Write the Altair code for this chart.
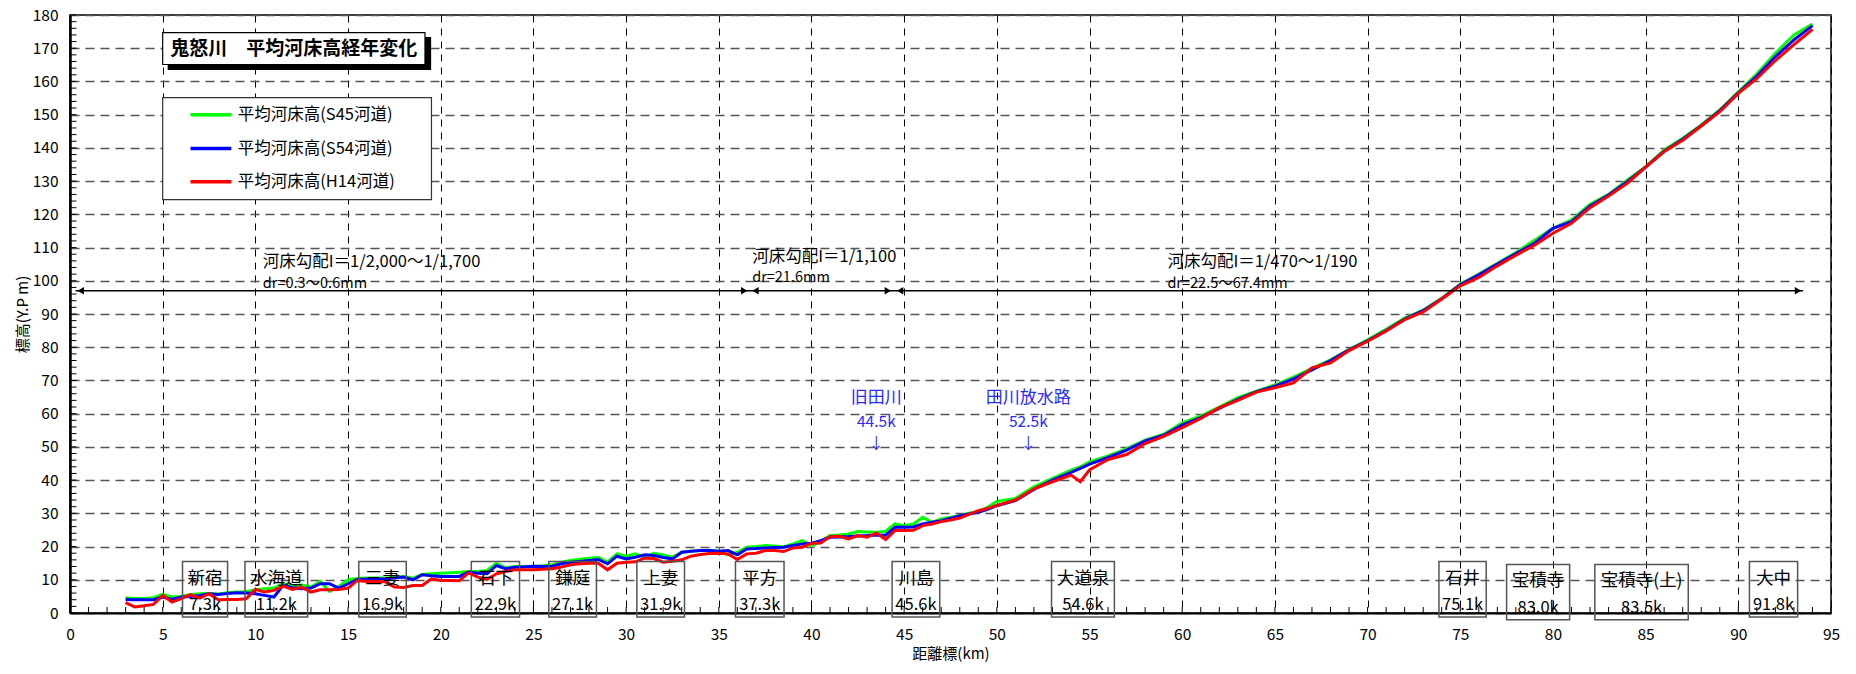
import altair as alt
import pandas as pd

FONT = "Noto Sans CJK JP"

# ---------------- data ----------------
distance = [3.0, 3.5, 4.0, 4.5, 5.0, 5.5, 6.0, 6.5, 7.0, 7.5,
            8.0, 8.5, 9.0, 9.5, 10.0, 10.5, 11.0, 11.5, 12.0, 12.5,
            13.0, 13.5, 14.0, 14.5, 15.0, 15.5, 16.0, 16.5, 17.0, 17.5,
            18.0, 18.5, 19.0, 19.5, 20.0, 20.5, 21.0, 21.5, 22.0, 22.5,
            23.0, 23.5, 24.0, 24.5, 25.0, 25.5, 26.0, 26.5, 27.0, 27.5,
            28.0, 28.5, 29.0, 29.5, 30.0, 30.5, 31.0, 31.5, 32.0, 32.5,
            33.0, 33.5, 34.0, 34.5, 35.0, 35.5, 36.0, 36.5, 37.0, 37.5,
            38.0, 38.5, 39.0, 39.5, 40.0, 40.5, 41.0, 41.5, 42.0, 42.5,
            43.0, 43.5, 44.0, 44.5, 45.0, 45.5, 46.0, 46.5, 47.0, 47.5,
            48.0, 48.5, 49.0, 49.5, 50.0,
            51, 52, 53, 54, 54.5, 55, 56, 57, 58, 59,
            60, 61, 62, 63, 64, 65, 66, 67, 68, 69,
            70, 71, 72, 73, 74, 75, 76, 77, 78, 79,
            80, 81, 82, 83, 84, 85, 86, 87, 88, 89,
            90, 91, 92, 93, 94]

s45 = [4.6, 4.4, 4.4, 4.6, 5.6, 4.8, 5.0, 5.6, 5.8, 5.9,
       5.7, 6.1, 6.3, 6.4, 7.0, 7.3, 7.5, 8.8, 8.2, 8.4,
       7.8, 9.5, 6.5, 8.0, 10.0, 10.4, 10.5, 10.5, 10.5, 10.8,
       11.0, 10.5, 11.6, 11.8, 12.0, 12.1, 12.3, 12.5, 12.5, 12.8,
       15.0, 13.6, 14.0, 14.0, 14.0, 14.2, 14.5, 15.3, 15.8, 16.2,
       16.5, 16.7, 15.3, 17.8, 17.1, 17.8, 16.8, 18.0, 17.5, 16.8,
       18.3, 18.6, 18.8, 18.8, 18.6, 17.5, 18.3, 19.8, 20.0, 20.3,
       20.2, 19.9, 20.8, 21.8, 20.3, 21.5, 23.3, 23.5, 23.8, 24.5,
       24.4, 24.3, 24.6, 26.8, 26.3, 26.8, 28.8, 27.3, 28.3, 28.8,
       29.3, 30.0, 30.5, 31.8, 33.6,
       34.5, 38.0, 40.5, 43.0, 44.0, 45.5, 47.3, 49.5, 52.0, 53.8,
       57.2, 59.3, 62.0, 64.8, 66.8, 68.7, 71.0, 73.6, 76.2, 79.3,
       82.2, 85.4, 88.8, 91.2, 94.7, 99.0, 102.0, 105.3, 108.5, 112.2,
       115.8, 118.3, 123.0, 126.0, 130.3, 134.3, 139.4, 142.9, 146.9, 151.4,
       156.9, 162.3, 168.5, 174.0, 177.3]

s54 = [4.1, 4.0, 4.0, 4.0, 4.8, 4.1, 4.8, 5.0, 5.3, 5.8,
       5.6, 5.9, 6.1, 6.0, 5.8, 5.3, 4.8, 8.3, 7.6, 7.3,
       7.5, 8.8, 8.8, 7.5, 8.8, 10.1, 10.2, 10.2, 10.3, 10.5,
       10.8, 10.0, 11.5, 11.2, 11.0, 11.0, 11.0, 12.3, 12.0, 11.8,
       14.3, 13.3, 13.8, 13.9, 14.1, 14.0, 14.1, 14.8, 15.3, 15.5,
       15.8, 16.1, 14.8, 17.1, 16.3, 16.8, 17.5, 17.3, 16.7, 16.3,
       18.3, 18.6, 18.8, 18.8, 18.6, 18.8, 17.5, 19.3, 19.4, 19.6,
       19.7, 19.8, 20.3, 20.8, 21.0, 21.8, 22.8, 22.9, 23.0, 23.2,
       23.3, 23.5, 23.4, 25.8, 25.8, 25.9, 26.8, 27.3, 27.8, 28.5,
       29.3, 29.8, 30.3, 31.2, 32.3,
       33.8, 37.2, 40.0, 42.3, 43.5, 44.8, 46.8, 49.0, 51.8, 53.5,
       56.6, 58.8, 61.6, 64.3, 66.6, 68.3, 70.5, 73.2, 76.0, 79.2,
       81.9, 85.0, 88.5, 91.0, 94.6, 98.8, 101.8, 105.0, 108.2, 111.3,
       115.8, 117.8, 122.5, 125.8, 129.8, 134.2, 139.0, 142.6, 146.7, 151.2,
       156.6, 161.6, 167.5, 172.5, 176.8]

h14 = [3.1, 1.8, 2.2, 2.6, 5.3, 3.3, 4.3, 5.5, 4.5, 5.8,
       4.0, 4.1, 4.1, 4.3, 7.1, 6.3, 6.8, 8.1, 7.1, 7.8,
       6.3, 7.0, 7.0, 7.1, 7.5, 9.8, 9.5, 9.5, 9.4, 7.8,
       7.7, 8.3, 8.3, 10.3, 9.8, 9.8, 9.7, 12.1, 10.8, 10.1,
       11.8, 12.5, 13.0, 13.0, 13.0, 13.2, 13.3, 13.8, 14.5, 14.8,
       15.0, 15.0, 13.0, 15.0, 15.3, 15.4, 16.5, 16.4, 15.3, 15.6,
       16.0, 17.1, 17.6, 17.9, 18.0, 17.8, 16.1, 17.8, 18.0, 18.8,
       18.8, 18.5, 19.6, 19.8, 21.0, 21.1, 23.0, 23.1, 22.3, 23.3,
       22.8, 24.1, 22.1, 24.8, 24.8, 24.9, 26.3, 26.8, 27.5, 28.0,
       28.6, 29.7, 30.8, 31.5, 32.4,
       34.0, 37.4, 39.5, 41.5, 39.5, 43.1, 46.2, 47.7, 51.0, 53.2,
       55.8, 58.6, 61.8, 64.0, 66.5, 67.8, 69.3, 73.8, 75.3, 79.0,
       81.8, 84.9, 88.3, 90.6, 94.5, 98.5, 101.0, 104.5, 107.7, 110.7,
       114.3, 117.3, 122.0, 125.5, 129.3, 134.2, 138.9, 142.3, 146.6, 150.9,
       156.4, 160.9, 166.3, 171.1, 175.7]

series_names = ["平均河床高(S45河道)", "平均河床高(S54河道)", "平均河床高(H14河道)"]
series_colors = ["#00ff00", "#0000ff", "#ff0000"]

station_names = ["新宿", "水海道", "三妻", "石下", "鎌庭", "上妻", "平方", "川島",
                 "大道泉", "石井", "宝積寺", "宝積寺(上)", "大中"]
station_km = ["7.3k", "11.2k", "16.9k", "22.9k", "27.1k", "31.9k", "37.3k", "45.6k",
              "54.6k", "75.1k", "83.0k", "83.5k", "91.8k"]

chart_title = "鬼怒川　平均河床高経年変化"
slope_texts = ["河床勾配I＝1/2,000～1/1,700", "河床勾配I＝1/1,100", "河床勾配I＝1/470～1/190"]
dr_texts = ["dr=0.3～0.6mm", "dr=21.6mm", "dr=22.5～67.4mm"]
river_names = ["旧田川", "田川放水路"]
river_km = ["44.5k", "52.5k"]

# ---------------- annotation placement (data coordinates) ----------------
st_x1 = [6.07, 9.44, 15.58, 21.65, 25.83, 30.58, 35.9, 44.35, 52.95, 73.85, 77.5, 82.26, 90.6]
st_x2 = [8.5, 12.82, 18.14, 24.25, 28.4, 33.15, 38.52, 46.92, 56.34, 76.4, 80.9, 87.3, 93.2]
st_y1 = [-1.2] * 10 + [-2.0, -2.0, -1.2]
st_y2 = [15.5] * 10 + [14.6, 14.6, 15.5]
st_name_y = [10.3] * 10 + [9.5, 9.5, 10.3]
st_km_y = [2.3] * 10 + [1.6, 1.6, 2.3]

stations = pd.DataFrame({
    "name": station_names, "km": station_km,
    "x1": st_x1, "x2": st_x2, "y1": st_y1, "y2": st_y2,
    "xm": [(a + b) / 2 for a, b in zip(st_x1, st_x2)],
    "ny": st_name_y, "ky": st_km_y,
})

xs = alt.Scale(domain=[0, 95], nice=False, zero=False)
ys = alt.Scale(domain=[0, 180], nice=False)

X_AXIS = alt.Axis(values=list(range(0, 96, 5)), title="距離標(km)", ticks=False,
                  labelPadding=14, titlePadding=4, grid=True, gridColor="#000000",
                  gridDash=[7, 6], gridWidth=1, domainColor="black", domainWidth=2,
                  labelFlush=False)
Y_AXIS = alt.Axis(values=list(range(0, 181, 10)), title="標高(Y.P m)", ticks=False,
                  labelPadding=12, titlePadding=2, grid=True, gridColor="#555555",
                  gridDash=[9, 6], gridWidth=1.5, domainColor="black", domainWidth=2.5)


def XF(field):
    return alt.X(field, scale=xs, axis=X_AXIS)


def YF(field):
    return alt.Y(field, scale=ys, axis=Y_AXIS)


def XD(v):
    return alt.X(datum=v, scale=xs, axis=X_AXIS)


def YD(v):
    return alt.Y(datum=v, scale=ys, axis=Y_AXIS)


def series_layer(idx, vals):
    df = pd.DataFrame({"distance": distance, "elev": vals})
    return alt.Chart(df).mark_line(strokeWidth=3, color=series_colors[idx], clip=False).encode(
        x=XF("distance:Q"), y=YF("elev:Q"))


one = pd.DataFrame({"a": [0]})

# minor ticks (inside)
y_minor = alt.Chart(alt.sequence(0, 181, 2, as_="v")).mark_rule(color="black", strokeWidth=1).encode(
    y=YF("v:Q"), x=XD(0), x2=alt.X2(datum=0.35))
x_minor = alt.Chart(alt.sequence(0, 96, 1, as_="v")).mark_rule(color="black", strokeWidth=1).encode(
    x=XF("v:Q"), y=YD(0), y2=alt.Y2(datum=1.8))

# station boxes
st_box = alt.Chart(stations).mark_rect(fill="white", fillOpacity=0, stroke="#555555",
                                       strokeWidth=1.5, clip=False).encode(
    x=XF("x1:Q"), x2="x2:Q", y=YF("y1:Q"), y2="y2:Q")
st_name = alt.Chart(stations).mark_text(font=FONT, fontSize=17.5, color="black",
                                        baseline="middle", align="center").encode(
    x=XF("xm:Q"), y=YF("ny:Q"), text="name:N")
st_kmt = alt.Chart(stations).mark_text(font=FONT, fontSize=16.5, color="black",
                                       baseline="middle", align="center").encode(
    x=XF("xm:Q"), y=YF("ky:Q"), text="km:N")

# title box with shadow
title_box = pd.DataFrame({"x1": [5.3, 5.0], "x2": [19.45, 19.15], "y1": [163.6, 165.1],
                          "y2": [173.2, 174.7], "fill": ["black", "white"]})
tb = alt.Chart(title_box).mark_rect(stroke="black", strokeWidth=1.2).encode(
    x=XF("x1:Q"), x2="x2:Q", y=YF("y1:Q"), y2="y2:Q",
    fill=alt.Fill("fill:N", scale=None))
tt = alt.Chart(pd.DataFrame({"t": [chart_title], "x": [12.07], "y": [169.9]})).mark_text(
    font=FONT, fontSize=19, fontWeight="bold", color="black", align="center", baseline="middle").encode(
    x=XF("x:Q"), y=YF("y:Q"), text="t:N")

# legend box
leg_box = alt.Chart(one).mark_rect(fill="white", stroke="#333333", strokeWidth=1.2).encode(
    x=XD(5.0), x2=alt.X2(datum=19.5), y=YD(124.4), y2=alt.Y2(datum=155.1))
leg_df = pd.DataFrame({"name": series_names, "color": series_colors, "y": [150.0, 139.8, 129.8],
                       "x1": [6.5] * 3, "x2": [8.7] * 3, "xt": [9.05] * 3})
leg_lines = alt.Chart(leg_df).mark_rule(strokeWidth=3.5).encode(
    x=XF("x1:Q"), x2="x2:Q", y=YF("y:Q"),
    color=alt.Color("color:N", scale=None))
leg_text = alt.Chart(leg_df).mark_text(font=FONT, fontSize=16.5, color="black", align="left",
                                       baseline="middle").encode(
    x=XF("xt:Q"), y=YF("y:Q"), text="name:N")

# slope arrows
arrow_line = alt.Chart(one).mark_rule(color="black", strokeWidth=1.5).encode(
    x=XD(0.3), x2=alt.X2(datum=93.5), y=YD(97))
arrow_tip = [0.3, 36.65, 36.7, 44.4, 44.5, 93.5]
arrow_dir = ["left", "right", "left", "right", "left", "right"]
arrows = pd.DataFrame({
    "x": [t + 0.28 if d == "left" else t - 0.28 for t, d in zip(arrow_tip, arrow_dir)],
    "shape": ["triangle-" + d for d in arrow_dir], "y": [97] * 6})
arrow_heads = alt.Chart(arrows).mark_point(filled=True, color="black", size=55, opacity=1).encode(
    x=XF("x:Q"), y=YF("y:Q"), shape=alt.Shape("shape:N", scale=None))

slope_df = pd.DataFrame({"t": slope_texts, "x": [10.4, 36.8, 59.2], "y": [105.6, 107.2, 105.6]})
dr_df = pd.DataFrame({"t": dr_texts, "x": [10.4, 36.8, 59.2], "y": [99.0, 100.8, 99.0]})
slope_t = alt.Chart(slope_df).mark_text(font=FONT, fontSize=16.5, color="black", align="left",
                                        baseline="middle").encode(
    x=XF("x:Q"), y=YF("y:Q"), text="t:N")
dr_t = alt.Chart(dr_df).mark_text(font=FONT, fontSize=14.5, color="black", align="left",
                                  baseline="middle").encode(
    x=XF("x:Q"), y=YF("y:Q"), text="t:N")

# tributary labels (blue)
rv = pd.DataFrame({
    "t": [river_names[0], river_km[0], "↓", river_names[1], river_km[1], "↓"],
    "x": [43.5] * 3 + [51.7] * 3,
    "y": [64.8, 57.6, 50.8] * 2,
    "fs": [17, 15.5, 15.5, 17, 15.5, 15.5]})
rv_t = alt.Chart(rv).mark_text(font=FONT, color="#2a2aff", align="center",
                               baseline="middle").encode(
    x=XF("x:Q"), y=YF("y:Q"), text="t:N", size=alt.Size("fs:Q", scale=None, legend=None))

chart = alt.layer(
    series_layer(0, s45),
    series_layer(1, s54),
    series_layer(2, h14),
    y_minor, x_minor,
    arrow_line, arrow_heads, slope_t, dr_t, rv_t,
    st_box, st_name, st_kmt,
    tb, tt,
    leg_box, leg_lines, leg_text,
).properties(
    width=1761, height=598,
    autosize="none",
    padding={"left": 62, "top": 7, "right": 17, "bottom": 53},
).configure_view(
    stroke="black", strokeWidth=1.5
).configure_axis(
    labelFont=FONT, titleFont=FONT, labelFontSize=15.5, titleFontSize=15,
    labelColor="black", titleColor="black", titleFontWeight="normal",
)

chart.save("out.html", embed_options={"renderer": "svg", "actions": False})
